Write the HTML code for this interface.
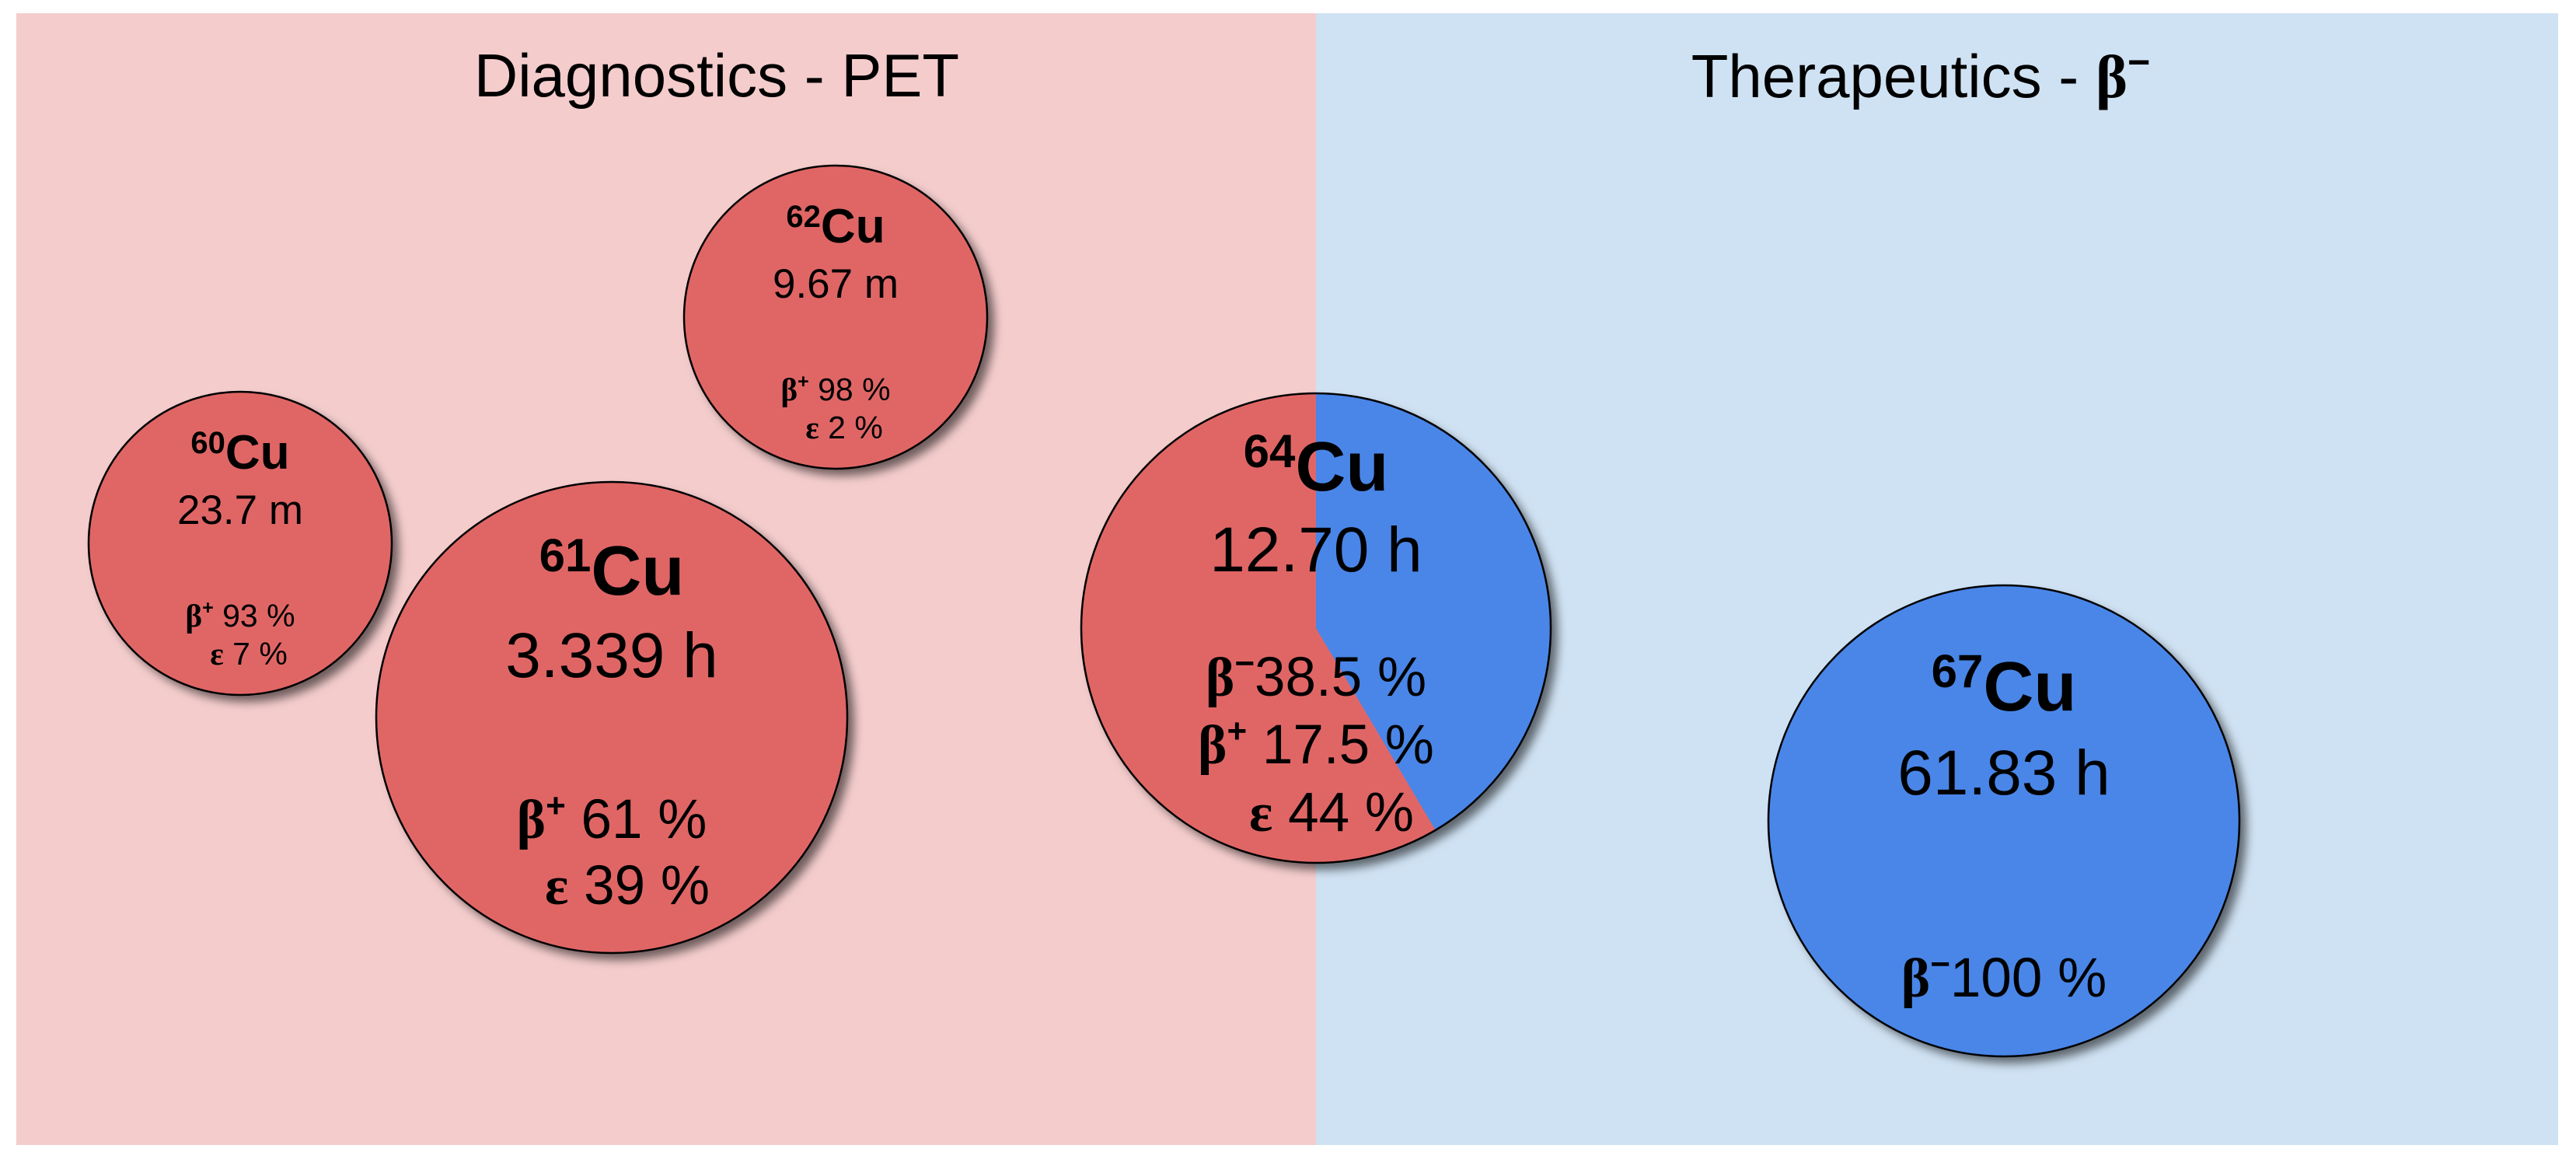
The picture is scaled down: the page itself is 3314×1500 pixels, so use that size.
<!DOCTYPE html>
<html><head><meta charset="utf-8"><style>
html,body{margin:0;padding:0;background:#fff;}
svg{display:block;}
text{font-family:"Liberation Sans",Arial,sans-serif;fill:#000;}
</style></head><body>
<svg id="chart" width="3314" height="1500" viewBox="0 0 3314 1500" xmlns="http://www.w3.org/2000/svg">
<defs>
<filter id="sh" x="-20%" y="-20%" width="150%" height="150%">
<feDropShadow dx="9" dy="9" stdDeviation="6" flood-color="#000" flood-opacity="0.55"/>
</filter>
</defs>
<rect x="21" y="17" width="1672" height="1456" fill="#f4cccc"/>
<rect x="1693" y="17" width="1598" height="1456" fill="#cfe2f3"/>
<text x="922" y="124" font-size="78" text-anchor="middle">Diagnostics - PET</text>
<text x="2471" y="125" font-size="78" text-anchor="middle">Therapeutics - <tspan font-weight="bold" font-family="Liberation Serif, serif">β</tspan><tspan font-weight="bold" dy="-28" font-size="50">−</tspan></text>
<g id="marks"></g>
</svg>
<script>
const isotopes = ["60", "61", "62", "64", "67"];
const halfLives = ["23.7 m", "3.339 h", "9.67 m", "12.70 h", "61.83 h"];
const betaMinus = [0, 0, 0, 38.5, 100];
const betaPlus = [93, 61, 98, 17.5, 0];
const electronCapture = [7, 39, 2, 44, 0];
const pieBlueShare = [0, 0, 0, 41.5, 100]; // visible share of blue wedge

// layout (not data)
const layout = {
  "60": {cx:309, cy:699, r:195, big:false},
  "61": {cx:787, cy:923, r:303, big:true},
  "62": {cx:1075, cy:408, r:195, big:false},
  "64": {cx:1693, cy:808, r:302, big:true},
  "67": {cx:2578, cy:1056, r:303, big:true}
};
const RED = "#e06666", BLUE = "#4a86e8";
const NS = "http://www.w3.org/2000/svg";
const marks = document.getElementById("marks");

function mk(tag, attrs, parent) {
  const el = document.createElementNS(NS, tag);
  for (const k in attrs) el.setAttribute(k, attrs[k]);
  parent.appendChild(el);
  return el;
}
function angleOf(share) { return share / 100 * 2 * Math.PI; }
function pt(cx, cy, r, a) { return [cx + r * Math.sin(a), cy - r * Math.cos(a)]; }

function addLine(g, x, y, fs, sym, sup, rest) {
  const t = mk("text", {x:x, y:y, "font-size":fs, "text-anchor":"middle"}, g);
  
  
  const s = mk("tspan", {"font-weight":"bold", "font-family":"Liberation Serif, serif"}, t);
  s.textContent = sym;
  if (sup) {
    const p = mk("tspan", {"font-size":Math.round(fs*0.62), dy:-Math.round(fs*0.38), "font-weight":"bold"}, t);
    p.textContent = sup;
    const q = mk("tspan", {dy:Math.round(fs*0.38)}, t);
    q.textContent = rest;
  } else {
    const q = mk("tspan", {}, t);
    q.textContent = " " + rest;
  }
}

isotopes.forEach((iso, i) => {
  const L = layout[iso];
  const g = mk("g", {}, marks);
  
  
  const blue = pieBlueShare[i];
  const base = mk("circle", {cx:L.cx, cy:L.cy, r:L.r, fill: blue >= 100 ? BLUE : RED, filter:"url(#sh)"}, g);
  
  
  if (blue > 0 && blue < 100) {
    const a = angleOf(blue);
    const p0 = pt(L.cx, L.cy, L.r, 0), p1 = pt(L.cx, L.cy, L.r, a);
    const w = mk("path", {d:`M${L.cx},${L.cy} L${p0[0]},${p0[1]} A${L.r},${L.r} 0 ${a>Math.PI?1:0} 1 ${p1[0]},${p1[1]} Z`, fill:BLUE}, g);
    
    
  }
  const ring = mk("circle", {cx:L.cx, cy:L.cy, r:L.r, fill:"none", stroke:"#000", "stroke-width":2.5}, g);
  
  

  const big = L.big;
  const fsCu = big ? 90 : 62, fsSup = big ? 60 : 40, fsHl = big ? 82 : 53, fsB = big ? 71 : 41;
  const cuDy = big ? (iso === "64" ? -177 : (iso === "67" ? -142 : -158)) : -96;
  const hlDy = big ? (iso === "64" ? -73 : (iso === "67" ? -34 : -52)) : -25;
  const name = mk("text", {x:L.cx, y:L.cy + cuDy, "font-size":fsCu, "font-weight":"bold", "text-anchor":"middle"}, g);
  
  
  const sp = mk("tspan", {"font-size":fsSup, dy:-Math.round(fsCu*0.33)}, name); sp.textContent = iso;
  const cu = mk("tspan", {dy:Math.round(fsCu*0.33)}, name); cu.textContent = "Cu";
  const hl = mk("text", {x:L.cx, y:L.cy + hlDy, "font-size":fsHl, "text-anchor":"middle"}, g);
  
  
  hl.textContent = halfLives[i];

  const lines = [];
  if (betaMinus[i] > 0) lines.push(["β", "−", betaMinus[i] + " %"]);
  if (betaPlus[i] > 0) lines.push(["β", "+", " " + betaPlus[i] + " %"]);
  if (electronCapture[i] > 0) lines.push(["ε", "", electronCapture[i] + " %"]);
  let y0, step;
  if (!big) { y0 = L.cy + 107; step = 49; }
  else if (iso === "64") { y0 = L.cy + 87; step = 87; }
  else if (iso === "67") { y0 = L.cy + 226; step = 86; }
  else { y0 = L.cy + 155; step = 85; }
  lines.forEach((ln, k) => {
    const dx = ln[0] === "ε" ? (big ? 20 : 11) : 0;
    addLine(g, L.cx + dx, y0 + k * step, fsB, ln[0], ln[1], ln[2]);
  });
});
</script>
</body></html>
